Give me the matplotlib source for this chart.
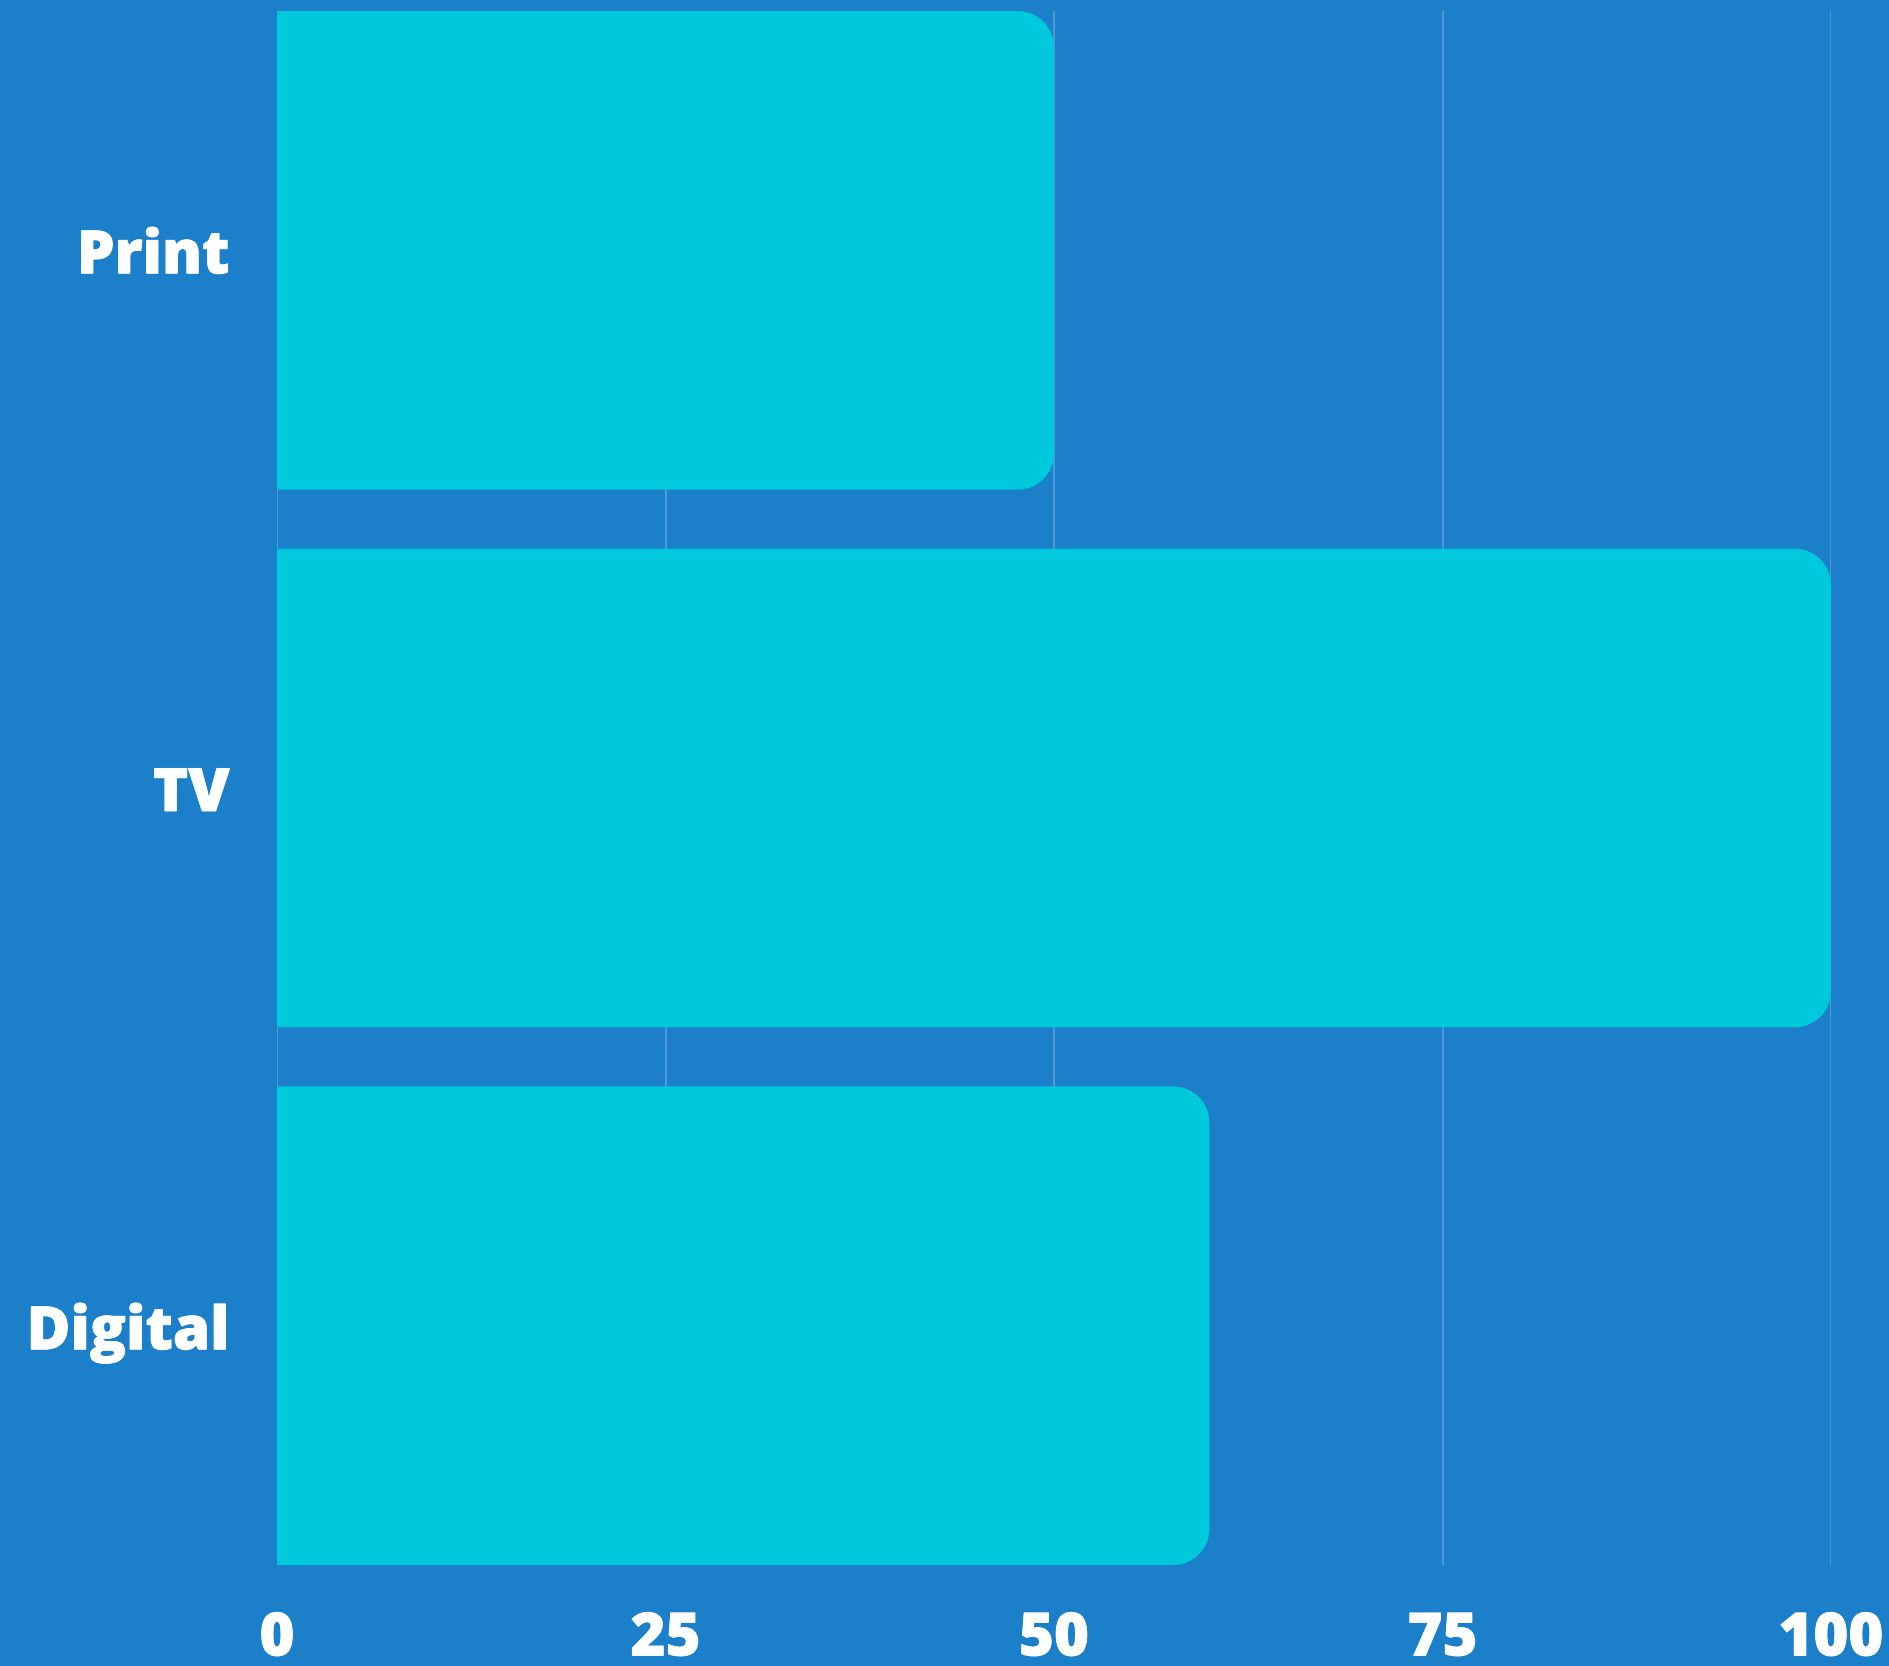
import matplotlib.pyplot as plt
from matplotlib.path import Path
from matplotlib.patches import PathPatch
import matplotlib.patheffects as pe

categories = ["Print", "TV", "Digital"]
values = [50, 100, 60]
x_ticks = [0, 25, 50, 75, 100]

BG = "#1b7fca"
BAR = "#00c9dc"
GRID = "#5d9fd8"

plt.rcParams['font.family'] = ['Open Sans', 'DejaVu Sans']

fig = plt.figure(figsize=(18.9, 16.66), dpi=100, facecolor=BG)
ax = fig.add_axes([0.1466, 0.0606, 0.8222, 0.9328], facecolor=BG)

bar_h = 0.89
ax.set_xlim(0, 100)
ax.set_ylim(len(categories) - 1 + bar_h / 2, -bar_h / 2)

# pixels per data unit, used to keep the corner round
bbox = ax.get_window_extent()
ppx = bbox.width / 100
ppy = bbox.height / (len(categories) - 1 + bar_h)
r_px = 36
rx, ry = r_px / ppx, r_px / ppy

bars = ax.barh(range(len(categories)), values, height=bar_h, color="none")
k = 0.5523
for b in bars:
    x0, y0 = b.get_x(), b.get_y()
    x1, y1 = x0 + b.get_width(), y0 + b.get_height()
    verts = [
        (x0, y0), (x1 - rx, y0),
        (x1 - rx + k * rx, y0), (x1, y0 + ry - k * ry), (x1, y0 + ry),
        (x1, y1 - ry),
        (x1, y1 - ry + k * ry), (x1 - rx + k * rx, y1), (x1 - rx, y1),
        (x0, y1), (x0, y0),
    ]
    codes = [Path.MOVETO, Path.LINETO,
             Path.CURVE4, Path.CURVE4, Path.CURVE4,
             Path.LINETO,
             Path.CURVE4, Path.CURVE4, Path.CURVE4,
             Path.LINETO, Path.CLOSEPOLY]
    ax.add_patch(PathPatch(Path(verts, codes), facecolor=BAR, edgecolor="none", zorder=3))

for x in x_ticks:
    ax.axvline(x, color=GRID, lw=1.2, zorder=1)

ax.set_yticks(range(len(categories)))
ax.set_yticklabels(categories)
ax.set_xticks(x_ticks)
ax.tick_params(axis="both", length=0, colors="white", labelsize=43)
ax.tick_params(axis="y", pad=34)
ax.tick_params(axis="x", pad=32)
# a thin stroke makes the bold face look a bit heavier
heavy = [pe.withStroke(linewidth=0.6, foreground="white")]
for lab in ax.get_xticklabels() + ax.get_yticklabels():
    lab.set_fontweight(800)
    lab.set_path_effects(heavy)
for s in ax.spines.values():
    s.set_visible(False)

fig.savefig("out.png", dpi=100, facecolor=BG)
